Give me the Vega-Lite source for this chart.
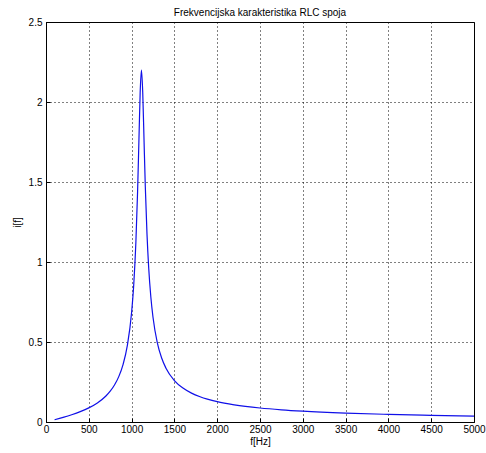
{
  "$schema": "https://vega.github.io/schema/vega-lite/v6.json",
  "width": 428,
  "height": 400,
  "autosize": {"type": "none"},
  "padding": {"left": 46, "top": 22, "right": 12, "bottom": 31},
  "background": "white",
  "title": {"text": "Frekvencijska karakteristika RLC spoja", "fontSize": 10, "fontWeight": "normal", "font": "Liberation Sans", "color": "black", "offset": -1, "anchor": "middle", "frame": "group"},
  "data": {"values": [
    {"f": 100, "i": 0.0142}, {"f": 200, "i": 0.0291}, {"f": 300, "i": 0.0456}, {"f": 400, "i": 0.0647},
    {"f": 500, "i": 0.0881}, {"f": 600, "i": 0.1189}, {"f": 700, "i": 0.1624}, {"f": 750, "i": 0.1923},
    {"f": 800, "i": 0.2311}, {"f": 850, "i": 0.2836}, {"f": 900, "i": 0.3591}, {"f": 950, "i": 0.4769},
    {"f": 1000, "i": 0.6846}, {"f": 1025, "i": 0.8585}, {"f": 1050, "i": 1.1239}, {"f": 1070, "i": 1.4408},
    {"f": 1085, "i": 1.7483}, {"f": 1100, "i": 2.0571}, {"f": 1115, "i": 2.2}, {"f": 1130, "i": 2.0605},
    {"f": 1145, "i": 1.7655}, {"f": 1160, "i": 1.4739}, {"f": 1180, "i": 1.1727}, {"f": 1200, "i": 0.9612},
    {"f": 1225, "i": 0.7797}, {"f": 1250, "i": 0.6549}, {"f": 1300, "i": 0.4967}, {"f": 1350, "i": 0.4015},
    {"f": 1400, "i": 0.3382}, {"f": 1500, "i": 0.2592}, {"f": 1600, "i": 0.2119}, {"f": 1700, "i": 0.1803},
    {"f": 1800, "i": 0.1575}, {"f": 2000, "i": 0.1269}, {"f": 2200, "i": 0.1071}, {"f": 2500, "i": 0.0874},
    {"f": 2750, "i": 0.0762}, {"f": 3000, "i": 0.0677}, {"f": 3500, "i": 0.0557}, {"f": 4000, "i": 0.0475},
    {"f": 4500, "i": 0.0415}, {"f": 5000, "i": 0.0369}
  ]},
  "mark": {"type": "line", "color": "#1010e8", "strokeWidth": 1.2, "interpolate": "monotone"},
  "encoding": {
    "x": {"field": "f", "type": "quantitative", "title": "f[Hz]",
      "scale": {"domain": [0, 5000], "nice": false, "zero": false},
      "axis": {"values": [0, 500, 1000, 1500, 2000, 2500, 3000, 3500, 4000, 4500, 5000], "format": "d", "labelPadding": 6, "titlePadding": 2}},
    "y": {"field": "i", "type": "quantitative", "title": "i[f]",
      "scale": {"domain": [0, 2.5], "nice": false},
      "axis": {"values": [0, 0.5, 1, 1.5, 2, 2.5], "format": "~g", "labelPadding": 8, "titlePadding": 6}}
  },
  "config": {
    "view": {"stroke": "black", "strokeWidth": 1},
    "axis": {
      "grid": true, "gridColor": "black", "gridDash": [1, 3], "gridOpacity": 1, "gridWidth": 1,
      "domainColor": "black", "tickColor": "black", "tickSize": -4, "labelFont": "Liberation Sans",
      "labelFontSize": 10, "labelColor": "black", "titleFont": "Liberation Sans", "titleFontSize": 10,
      "titleFontWeight": "normal", "titleColor": "black", "labelFlush": false, "labelOverlap": false
    }
  }
}
